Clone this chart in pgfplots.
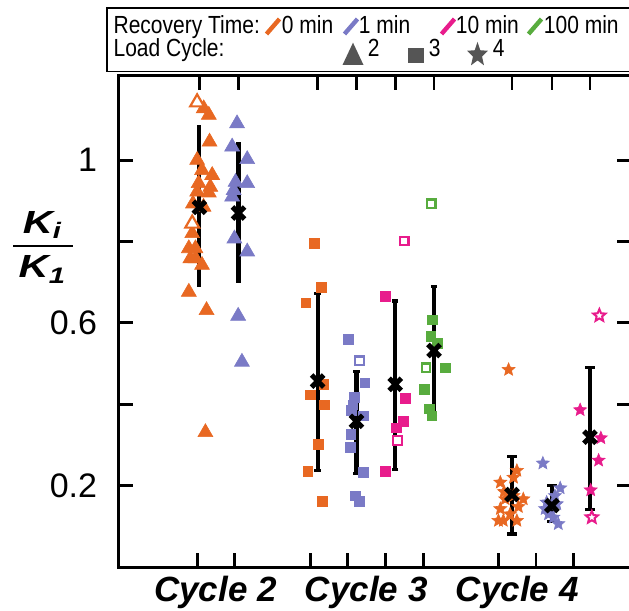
\documentclass[border=0pt]{standalone}
\usepackage{fontspec}
\setmainfont{Liberation Sans}
\usepackage{pgfplots}
\pgfplotsset{compat=1.18}
\usetikzlibrary{shapes.geometric}

\definecolor{corange}{RGB}{232,104,34}
\definecolor{cblue}{RGB}{122,122,198}
\definecolor{cpink}{RGB}{232,28,140}
\definecolor{cgreen}{RGB}{88,172,62}
\definecolor{cgray}{RGB}{85,85,85}

% filled five-pointed star
\pgfdeclareplotmark{fstar}{%
  \pgfpathmoveto{\pgfpointpolar{90}{\pgfplotmarksize}}%
  \pgfpathlineto{\pgfpointpolar{126}{0.45\pgfplotmarksize}}%
  \pgfpathlineto{\pgfpointpolar{162}{\pgfplotmarksize}}%
  \pgfpathlineto{\pgfpointpolar{198}{0.45\pgfplotmarksize}}%
  \pgfpathlineto{\pgfpointpolar{234}{\pgfplotmarksize}}%
  \pgfpathlineto{\pgfpointpolar{270}{0.45\pgfplotmarksize}}%
  \pgfpathlineto{\pgfpointpolar{306}{\pgfplotmarksize}}%
  \pgfpathlineto{\pgfpointpolar{342}{0.45\pgfplotmarksize}}%
  \pgfpathlineto{\pgfpointpolar{18}{\pgfplotmarksize}}%
  \pgfpathlineto{\pgfpointpolar{54}{0.45\pgfplotmarksize}}%
  \pgfpathclose
  \pgfusepathqfillstroke
}

\pgfplotsset{
  tri/.style={only marks, mark=triangle*, mark size=4.3pt, color=#1, mark options={line width=0.3pt}},
  otri/.style={only marks, mark=triangle*, mark size=4.0pt, color=#1, mark options={fill=white, line width=1.1pt}},
  sq/.style={only marks, mark=square*, mark size=2.4pt, color=#1, mark options={line width=0.3pt}},
  osq/.style={only marks, mark=square*, mark size=2.1pt, color=#1, mark options={fill=white, line width=1.1pt}},
  st/.style={only marks, mark=fstar, mark size=3.4pt, color=#1, mark options={line width=0.3pt}},
  ost/.style={only marks, mark=fstar, mark size=3.2pt, color=#1, mark options={fill=white, line width=1pt}},
  meanbar/.style={black, only marks, mark=x, mark size=4.3pt,
    mark options={line width=2.5pt},
    /pgfplots/error bars/y dir=both,
    /pgfplots/error bars/y explicit,
    /pgfplots/error bars/error bar style={line width=2.1pt, black},
    /pgfplots/error bars/error mark options={rotate=90, line width=1.6pt, mark size=#1}},
}

\begin{document}
\begin{tikzpicture}
\begin{axis}[
  name=ax,
  scale only axis,
  width=256pt, height=245.5pt,
  xmin=-1.0875, xmax=12.507,
  ymin=0, ymax=1.2068,
  clip=false,
  axis line style={line width=1.5pt},
  major tick style={line width=1.4pt, black},
  major tick length=7pt,
  tick align=inside,
  xtick={1,2,4,5,6,7,9,10,11},
  xticklabel=\empty,
  xtick pos=left,
  ytick={0.2,0.4,0.6,0.8,1},
  yticklabels={0.2,,0.6,,1},
  ytick pos=both,
  yticklabel style={font=\fontsize{17}{20}\selectfont, inner sep=0pt, xshift=-10.5pt},
  /pgf/number format/assume math mode=true,
]
% Cycle 2, 0 min
\addplot[tri=corange] coordinates {
  (1.175,1.127) (1.31,1.111) (1.33,1.045) (1.00,1.000) (1.13,0.975)
  (1.40,0.963) (1.04,0.943) (1.35,0.934) (1.00,0.922) (1.31,0.920)
  (0.89,0.893) (1.17,0.885) (0.87,0.820) (0.78,0.783) (0.955,0.783)
  (0.82,0.758) (0.96,0.758) (1.13,0.742) (0.78,0.676) (1.25,0.631)
  (1.22,0.331)
};
\addplot[otri=corange] coordinates {(1.00,1.142) (0.87,0.844)};
% Cycle 2, 1 min
\addplot[tri=cblue] coordinates {
  (2.06,1.090) (1.93,1.033) (2.33,1.002) (2.02,0.946) (2.33,0.943)
  (1.97,0.926) (1.93,0.910) (1.99,0.807) (2.33,0.775) (2.09,0.617)
  (2.19,0.504)
};
% Cycle 3
\addplot[sq=corange] coordinates {
  (4.11,0.795) (4.30,0.688) (3.89,0.649) (4.36,0.449) (4.01,0.423)
  (4.38,0.399) (4.21,0.301) (3.94,0.235) (4.32,0.161)
};
\addplot[sq=cblue] coordinates {
  (5.01,0.559) (5.45,0.453) (5.17,0.417) (5.13,0.399) (5.09,0.385)
  (5.42,0.372) (5.08,0.326) (5.07,0.294) (5.42,0.233) (5.20,0.175)
  (5.31,0.161)
};
\addplot[osq=cblue] coordinates {(5.31,0.507)};
\addplot[sq=cpink] coordinates {
  (5.99,0.666) (6.53,0.415) (6.48,0.358) (6.29,0.342) (5.99,0.235)
};
\addplot[osq=cpink] coordinates {(6.50,0.801) (6.32,0.311)};
\addplot[sq=cgreen] coordinates {
  (7.25,0.608) (7.20,0.567) (7.38,0.550) (7.59,0.490) (7.03,0.437)
  (7.17,0.389) (7.23,0.372)
};
\addplot[osq=cgreen] coordinates {(7.22,0.893) (7.08,0.490)};
% Cycle 4
\addplot[st=corange] coordinates {
  (9.27,0.485) (9.49,0.237) (9.05,0.208) (9.40,0.220) (9.66,0.167)
  (9.15,0.185) (9.05,0.143) (9.53,0.148) (9.18,0.167) (9.13,0.114)
  (9.49,0.114) (9.31,0.130) (9.00,0.114) (9.40,0.175)
};
\addplot[st=cblue] coordinates {
  (10.18,0.255) (10.64,0.194) (10.28,0.159) (10.55,0.155) (10.24,0.143)
  (10.46,0.122) (10.59,0.106) (10.33,0.130) (10.50,0.175)
};
\addplot[st=cpink] coordinates {
  (11.17,0.386) (11.72,0.317) (11.66,0.262) (11.45,0.189)
};
\addplot[ost=cpink] coordinates {(11.68,0.618) (11.48,0.122)};
% means with error bars
\addplot[meanbar=0pt, /pgfplots/error bars/error mark=none] coordinates {
  (1.06,0.884) += (0,0.202) -= (0,0.196)
  (2.10,0.870) += (0,0.175) -= (0,0.172)
};
\addplot[meanbar=1.6pt] coordinates {
  (4.20,0.457) += (0,0.216) -= (0,0.220)
  (5.23,0.358) += (0,0.123) -= (0,0.129)
  (6.26,0.449) += (0,0.205) -= (0,0.209)
  (7.29,0.532) += (0,0.158) -= (0,0.156)
};
\addplot[meanbar=2.3pt] coordinates {
  (9.36,0.178) += (0,0.094) -= (0,0.097)
  (10.42,0.151) += (0,0.049) -= (0,0.039)
  (11.43,0.319) += (0,0.171) -= (0,0.178)
};
% category names
\node[anchor=base, font=\fontsize{17.5}{20}\selectfont\bfseries\itshape, yshift=-17.2pt]
  at (axis cs:1.485,0) {Cycle 2};
\node[anchor=base, font=\fontsize{17.5}{20}\selectfont\bfseries\itshape, yshift=-17.2pt]
  at (axis cs:5.49,0) {Cycle 3};
\node[anchor=base, font=\fontsize{17.5}{20}\selectfont\bfseries\itshape, yshift=-17.2pt]
  at (axis cs:9.50,0) {Cycle 4};
\end{axis}

% top ticks sit over the bars
\begin{axis}[
  scale only axis,
  width=256pt, height=245.5pt,
  xmin=-1.0875, xmax=12.507,
  ymin=0, ymax=1.2068,
  axis line style={line width=1.5pt},
  major tick style={line width=1.4pt, black},
  major tick length=7pt,
  tick align=inside,
  xtick={1.06,2.10,4.20,5.23,6.26,7.29,9.36,10.42,11.43},
  xticklabel=\empty,
  xtick pos=right,
  ytick=\empty,
]
\end{axis}

% y label as a fraction
\begin{scope}[shift={(ax.north west)}]
  \node[anchor=base, inner sep=0pt, xscale=1.3, font=\fontsize{16}{18}\selectfont\bfseries\itshape]
    at (-38pt,-78.6pt) {K\textsubscript{i}};
  \draw[line width=1.3pt] (-52.5pt,-85pt) -- (-23pt,-85pt);
  \node[anchor=base, inner sep=0pt, xscale=1.3, font=\fontsize{16}{18}\selectfont\bfseries\itshape]
    at (-38pt,-101pt) {K\textsubscript{1}};
\end{scope}

% legend
\begin{scope}[shift={(ax.north west)}, every node/.style={anchor=base west, inner sep=0pt, yscale=1.18, font=\fontsize{10.5}{12}\selectfont}]
  \draw[line width=0.8pt, fill=white] (-5.65pt,2.15pt) rectangle (275pt,33.85pt);
  \node at (-2.65pt,21.35pt) {Recovery Time:};
  \draw[corange, line width=2.2pt] (74pt,21pt) -- (80.5pt,28.5pt);
  \node at (81.5pt,21.35pt) {0 min};
  \draw[cblue, line width=2.2pt] (113pt,21pt) -- (119.5pt,28.5pt);
  \node at (120pt,21.35pt) {1 min};
  \draw[cpink, line width=2.2pt] (161.5pt,21pt) -- (168pt,28.5pt);
  \node at (168.5pt,21.35pt) {10 min};
  \draw[cgreen, line width=2.2pt] (205pt,21pt) -- (211.5pt,28.5pt);
  \node at (212.5pt,21.35pt) {100 min};
  \node at (-2.65pt,9.65pt) {Load Cycle:};
  \fill[cgray] (112pt,5.5pt) -- (122.5pt,5.5pt) -- (117.25pt,16.65pt) -- cycle;
  \node at (124.5pt,9.65pt) {2};
  \fill[cgray] (144.5pt,6.35pt) rectangle (152.5pt,14.15pt);
  \node at (155pt,9.65pt) {3};
  \node[star, star points=5, star point ratio=2.3, fill=cgray, minimum size=11pt, anchor=center, yscale=1]
    at (179.5pt,10.6pt) {};
  \node at (187pt,9.65pt) {4};
\end{scope}

\pgfresetboundingbox
\path[use as bounding box] ([shift={(-59.25pt,-21.5pt)}]ax.south west)
  rectangle ([shift={(-0.75pt,38pt)}]ax.north east);
\end{tikzpicture}
\end{document}
